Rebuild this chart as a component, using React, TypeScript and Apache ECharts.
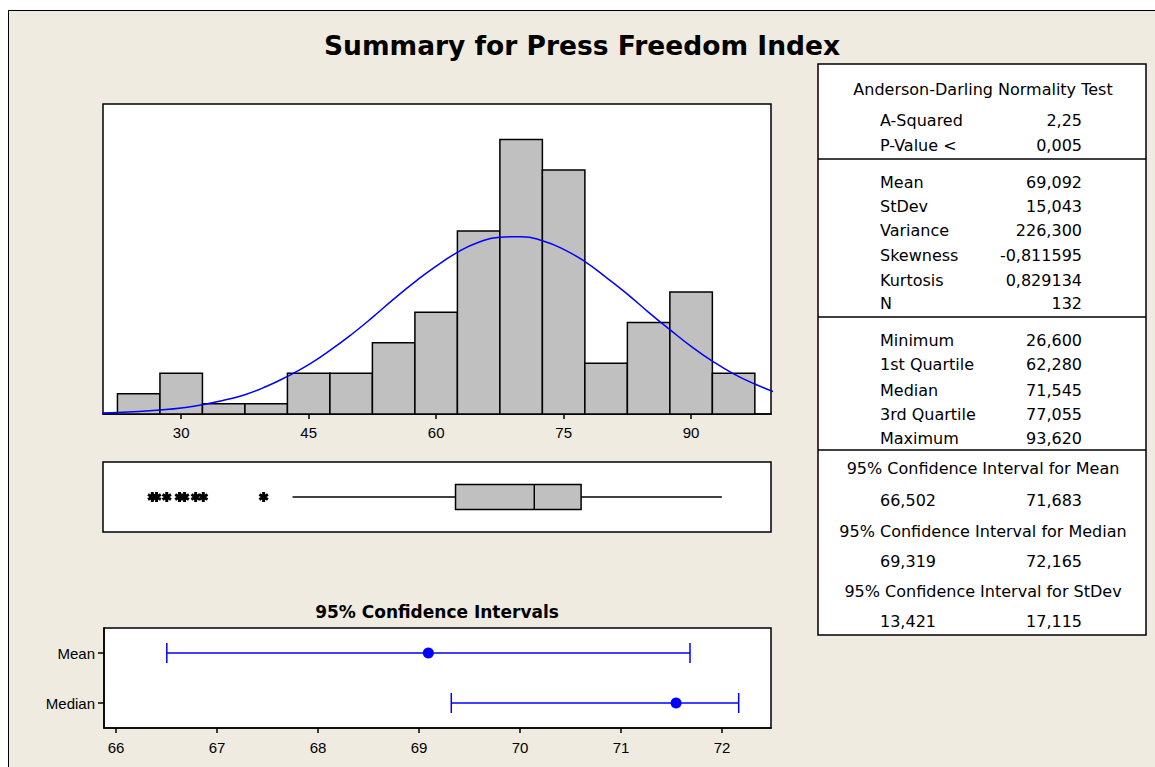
import React, { useEffect, useRef } from "react";
import * as echarts from "echarts";

// ---------- data ----------
const binCenters = [25, 30, 35, 40, 45, 50, 55, 60, 65, 70, 75, 80, 85, 90, 95];
const binCounts = [2, 4, 1, 1, 4, 4, 7, 10, 18, 27, 24, 5, 9, 12, 4];
const binWidth = 5;
const histTicks = [30, 45, 60, 75, 90];

const curveX = [20, 22.5, 25, 27.5, 30, 32.5, 35, 37.5, 40, 42.5, 45, 47.5, 50, 52.5, 55, 57.5, 60, 62.5, 65, 67.5, 70, 72.5, 75, 77.5, 80, 82.5, 85, 87.5, 90, 92.5, 95, 97.5, 100];
const curveY = [0.1, 0.15, 0.25, 0.4, 0.6, 0.9, 1.35, 1.9, 2.7, 3.7, 4.85, 6.25, 7.8, 9.5, 11.3, 13.0, 14.55, 15.9, 16.9, 17.4, 17.45, 17.05, 16.2, 15.0, 13.45, 11.8, 10.0, 8.3, 6.65, 5.2, 3.95, 2.95, 2.1];

// whisker low, Q1, median, Q3, whisker high
const boxStats = [43.1, 62.28, 71.545, 77.055, 93.62];
const outliers = [26.6, 27.1, 28.3, 29.8, 30.4, 31.7, 32.6, 39.7];

const ciLabels = ["Mean", "Median"];
const ciEstimates = [69.092, 71.545];
const ciLower = [66.502, 69.319];
const ciUpper = [71.683, 72.165];
const ciTicks = [66, 67, 68, 69, 70, 71, 72];

const adLabels = ["A-Squared", "P-Value <"];
const adValues = ["2,25", "0,005"];
const momentLabels = ["Mean", "StDev", "Variance", "Skewness", "Kurtosis", "N"];
const momentValues = ["69,092", "15,043", "226,300", "-0,811595", "0,829134", "132"];
const quantLabels = ["Minimum", "1st Quartile", "Median", "3rd Quartile", "Maximum"];
const quantValues = ["26,600", "62,280", "71,545", "77,055", "93,620"];
const ciTableTitles = [
  "95% Confidence Interval for Mean",
  "95% Confidence Interval for Median",
  "95% Confidence Interval for StDev",
];
const ciTableLow = ["66,502", "69,319", "13,421"];
const ciTableHigh = ["71,683", "72,165", "17,115"];

const TITLE = "Summary for Press Freedom Index";
const CI_TITLE = "95% Confidence Intervals";

const asterisk =
  "path://M-1.5,-5L1.5,-5L1.5,5L-1.5,5Z" +
  "M3.58,-3.80L5.08,-1.20L-3.58,3.80L-5.08,1.20Z" +
  "M-5.08,-1.20L-3.58,-3.80L5.08,1.20L3.58,3.80Z";

const TFONT = "DejaVu Sans";
const AFONT = "Liberation Sans";

function buildOption() {
  const graphics: any[] = [];
  const txt = (text: string, x: number, y: number, align = "left", size = 16, weight = "normal", family = TFONT) => {
    graphics.push({
      type: "text",
      x,
      y,
      style: {
        text,
        fill: "#000",
        font: `${weight} ${size}px "${family}"`,
        textAlign: align,
        textVerticalAlign: "middle",
      },
    });
  };
  txt(TITLE, 582, 45, "center", 26.5, "bold");
  txt(CI_TITLE, 437, 612, "center", 17, "bold");

  // stats table
  graphics.push({
    type: "rect",
    shape: { x: 818, y: 64, width: 328, height: 571 },
    style: { fill: "#fff", stroke: "#000", lineWidth: 1.5 },
  });
  [159, 317, 450].forEach((y) =>
    graphics.push({
      type: "line",
      shape: { x1: 818, y1: y, x2: 1146, y2: y },
      style: { stroke: "#000", lineWidth: 1.5 },
    })
  );
  const LX = 880;
  const RX = 1082;
  const CX = 983;
  txt("Anderson-Darling Normality Test", CX, 89, "center");
  const adY = [120, 145];
  adLabels.forEach((l, i) => {
    txt(l, LX, adY[i]);
    txt(adValues[i], RX, adY[i], "right");
  });
  const mY = [182, 206, 230, 255, 280, 303];
  momentLabels.forEach((l, i) => {
    txt(l, LX, mY[i]);
    txt(momentValues[i], RX, mY[i], "right");
  });
  const qY = [340, 364, 390, 414, 438];
  quantLabels.forEach((l, i) => {
    txt(l, LX, qY[i]);
    txt(quantValues[i], RX, qY[i], "right");
  });
  const ctY = [468, 531, 591];
  const cvY = [500, 561, 621];
  ciTableTitles.forEach((t, i) => {
    txt(t, CX, ctY[i], "center");
    txt(ciTableLow[i], LX, cvY[i]);
    txt(ciTableHigh[i], RX, cvY[i], "right");
  });

  const axisLabelStyle = { color: "#000", fontFamily: AFONT, fontSize: 15 };

  return {
    animation: false,
    backgroundColor: "transparent",
    graphic: { elements: graphics },
    grid: [
      { left: 103, top: 104, width: 668, height: 310, show: true, backgroundColor: "#fff", borderColor: "#000", borderWidth: 1.5 },
      { left: 103, top: 462, width: 668, height: 70, show: true, backgroundColor: "#fff", borderColor: "#000", borderWidth: 1.5 },
      { left: 104, top: 628, width: 667, height: 100, show: true, backgroundColor: "#fff", borderColor: "#000", borderWidth: 1.5 },
    ],
    xAxis: [
      {
        type: "value",
        gridIndex: 0,
        min: 20.8,
        max: 99.4,
        axisLine: { show: true, lineStyle: { color: "#000", width: 1.5 } },
        axisTick: { show: true, customValues: histTicks, length: 5, lineStyle: { color: "#000", width: 1.5 } },
        axisLabel: { customValues: histTicks, margin: 11, ...axisLabelStyle },
        splitLine: { show: false },
      },
      { type: "value", gridIndex: 1, min: 20.8, max: 99.4, show: false },
      {
        type: "value",
        gridIndex: 2,
        min: 65.88,
        max: 72.485,
        axisLine: { show: true, lineStyle: { color: "#000", width: 1.5 } },
        axisTick: { show: true, customValues: ciTicks, length: 5, lineStyle: { color: "#000", width: 1.5 } },
        axisLabel: { customValues: ciTicks, margin: 12, ...axisLabelStyle },
        splitLine: { show: false },
      },
    ],
    yAxis: [
      { type: "value", gridIndex: 0, min: 0, max: 30.5, show: false },
      { type: "value", gridIndex: 1, min: 0, max: 1, show: false },
      {
        type: "category",
        gridIndex: 2,
        data: ciLabels,
        inverse: true,
        axisLine: { show: true, lineStyle: { color: "#000", width: 1.5 } },
        axisTick: { show: true, alignWithLabel: true, length: 6, lineStyle: { color: "#000", width: 1.5 } },
        axisLabel: { margin: 9, ...axisLabelStyle },
        splitLine: { show: false },
      },
    ],
    series: [
      {
        type: "custom",
        xAxisIndex: 0,
        yAxisIndex: 0,
        data: binCenters.map((c, i) => [c, binCounts[i]]),
        renderItem: (params: any, api: any) => {
          const x = api.value(0);
          const c = api.value(1);
          const p0 = api.coord([x - binWidth / 2, 0]);
          const p1 = api.coord([x + binWidth / 2, c]);
          return {
            type: "rect",
            shape: { x: p0[0], y: p1[1], width: p1[0] - p0[0], height: p0[1] - p1[1] },
            style: { fill: "#C0C0C0", stroke: "#000", lineWidth: 1.5 },
          };
        },
        z: 2,
      },
      {
        type: "line",
        xAxisIndex: 0,
        yAxisIndex: 0,
        data: curveX.map((x, i) => [x, curveY[i]]),
        smooth: true,
        symbol: "none",
        clip: true,
        lineStyle: { color: "#0000FF", width: 1.5 },
        z: 3,
      },
      {
        type: "custom",
        xAxisIndex: 1,
        yAxisIndex: 1,
        data: [boxStats],
        renderItem: (params: any, api: any) => {
          const lo = api.coord([api.value(0), 0.5]);
          const q1 = api.coord([api.value(1), 0.5]);
          const md = api.coord([api.value(2), 0.5]);
          const q3 = api.coord([api.value(3), 0.5]);
          const hi = api.coord([api.value(4), 0.5]);
          const y = lo[1];
          const h = 12.5;
          const ls = { stroke: "#000", lineWidth: 1.5 };
          return {
            type: "group",
            children: [
              { type: "line", shape: { x1: lo[0], y1: y, x2: q1[0], y2: y }, style: ls },
              { type: "line", shape: { x1: q3[0], y1: y, x2: hi[0], y2: y }, style: ls },
              { type: "rect", shape: { x: q1[0], y: y - h, width: q3[0] - q1[0], height: 2 * h }, style: { fill: "#C0C0C0", stroke: "#000", lineWidth: 1.5 } },
              { type: "line", shape: { x1: md[0], y1: y - h, x2: md[0], y2: y + h }, style: ls },
            ],
          };
        },
      },
      {
        type: "scatter",
        xAxisIndex: 1,
        yAxisIndex: 1,
        data: outliers.map((v) => [v, 0.5]),
        symbol: asterisk,
        symbolSize: [10, 10],
        itemStyle: { color: "#000", opacity: 1 },
      },
      {
        type: "custom",
        xAxisIndex: 2,
        yAxisIndex: 2,
        data: ciLabels.map((l, i) => [ciLower[i], ciUpper[i], i]),
        renderItem: (params: any, api: any) => {
          const idx = api.value(2);
          const a = api.coord([api.value(0), idx]);
          const b = api.coord([api.value(1), idx]);
          const y = a[1];
          const ls = { stroke: "#0000FF", lineWidth: 1.5 };
          return {
            type: "group",
            children: [
              { type: "line", shape: { x1: a[0], y1: y, x2: b[0], y2: y }, style: ls },
              { type: "line", shape: { x1: a[0], y1: y - 10, x2: a[0], y2: y + 10 }, style: ls },
              { type: "line", shape: { x1: b[0], y1: y - 10, x2: b[0], y2: y + 10 }, style: ls },
            ],
          };
        },
      },
      {
        type: "scatter",
        xAxisIndex: 2,
        yAxisIndex: 2,
        data: ciEstimates.map((v, i) => [v, ciLabels[i]]),
        symbol: "circle",
        symbolSize: 11,
        itemStyle: { color: "#0000FF", opacity: 1 },
        z: 5,
      },
    ],
  };
}

export default function App() {
  const ref = useRef<HTMLDivElement>(null);
  useEffect(() => {
    if (!ref.current) return;
    const chart = echarts.init(ref.current, undefined, { renderer: "svg" });
    chart.setOption(buildOption() as any);
    return () => chart.dispose();
  }, []);
  return (
    <div style={{ position: "fixed", left: 0, top: 0, width: 1155, height: 767, background: "#fff", overflow: "hidden" }}>
      <div
        style={{
          position: "absolute",
          left: 8,
          top: 10,
          width: 1200,
          height: 800,
          background: "#EFEBE0",
          borderLeft: "1.5px solid #000",
          borderTop: "1.5px solid #000",
        }}
      />
      <div ref={ref} style={{ position: "absolute", left: 0, top: 0, width: 1155, height: 767 }} />
    </div>
  );
}
